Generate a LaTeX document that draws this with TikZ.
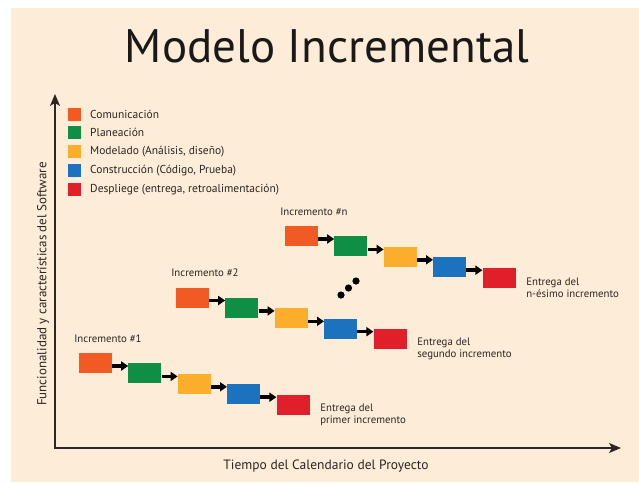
\documentclass[tikz,border=0pt]{standalone}
\usepackage{fontspec}
\setmainfont{PT Sans}
\usepackage{tikz}
\usepackage{xcolor}
\usetikzlibrary{positioning}
\usetikzlibrary{arrows.meta}
\definecolor{peach}{HTML}{FDECD8}
\definecolor{comcol}{HTML}{F15A22}
\definecolor{placol}{HTML}{0F8F45}
\definecolor{modcol}{HTML}{FBAE2C}
\definecolor{concol}{HTML}{1B72BE}
\definecolor{descol}{HTML}{E01F2A}
\definecolor{ink}{HTML}{2B2624}
\tikzstyle{phase}=[rectangle, minimum width=33pt, minimum height=20pt, inner sep=0pt]
\tikzstyle{legend}=[rectangle, minimum size=13pt, inner sep=0pt]
\tikzstyle{link}=[-{Triangle[length=7pt, width=9pt]}, draw=black, line width=3.5pt]
\tikzstyle{axis}=[{Stealth[length=12pt, width=10pt, inset=3pt]}-{Stealth[length=12pt, width=10pt, inset=3pt]}, draw=ink, line width=1.4pt]
\tikzstyle{txt}=[font=\fontsize{10.8}{12.5}\selectfont, text=ink, align=left]

\begin{document}
\begin{tikzpicture}[x=1pt, y=-1pt, node distance = 16pt]
    \useasboundingbox (0,0) rectangle (639,482);
    \fill[peach] (11,8) rectangle (639,482);

    \node[font=\fontsize{47}{56}\selectfont, text=black!90] (title) at (327,46) {Modelo Incremental};

    % legend
    \node[legend, fill=comcol] (legcom) at (74,114) {};
    \node[legend, fill=placol] (legpla) [below = 5.5pt of legcom] {};
    \node[legend, fill=modcol] (legmod) [below = 5.5pt of legpla] {};
    \node[legend, fill=concol] (legcon) [below = 5.5pt of legmod] {};
    \node[legend, fill=descol] (legdes) [below = 5.5pt of legcon] {};
    \node[txt, font=\fontsize{11.5}{13}\selectfont] [right = 6pt of legcom] {Comunicación};
    \node[txt, font=\fontsize{11.5}{13}\selectfont] [right = 6pt of legpla] {Planeación};
    \node[txt, font=\fontsize{11.5}{13}\selectfont] [right = 6pt of legmod] {Modelado (Análisis, diseño)};
    \node[txt, font=\fontsize{11.5}{13}\selectfont] [right = 6pt of legcon] {Construcción (Código, Prueba)};
    \node[txt, font=\fontsize{11.5}{13}\selectfont] [right = 6pt of legdes] {Despliege (entrega, retroalimentación)};

    % axes
    \coordinate (origin) at (55,448);
    \coordinate (ytop)   at (55,94);
    \coordinate (xend)   at (621,448);
    \draw[axis] (ytop) -- (origin) -- (xend);
    \node[txt, rotate=90, font=\fontsize{13}{15}\selectfont] (ylab) at (43,284) {Funcionalidad y características del Software};
    \node[txt, font=\fontsize{13.5}{15}\selectfont] (xlab) at (326,466) {Tiempo del Calendario del Proyecto};

    % increment 1
    \node[phase, fill=comcol] (com1) at (95.5,363) {};
    \node[phase, fill=placol] (pla1) [below right = -10pt and 16pt of com1] {};
    \node[phase, fill=modcol] (mod1) [below right = -10pt and 16pt of pla1] {};
    \node[phase, fill=concol] (con1) [below right = -10pt and 16pt of mod1] {};
    \node[phase, fill=descol] (des1) [below right = -10pt and 16pt of con1] {};
    \node[txt] (inc1) [above = 7pt of com1.north west, anchor=south west, xshift=-8pt] {Incremento \#1};
    \node[txt] (ent1) [right = 7pt of des1, yshift=-10pt, anchor=west] {Entrega del\\primer incremento};

    % increment 2
    \node[phase, fill=comcol] (com2) at (192.5,297.5) {};
    \node[phase, fill=placol] (pla2) [below right = -10pt and 16pt of com2] {};
    \node[phase, fill=modcol] (mod2) [below right = -10pt and 16pt of pla2] {};
    \node[phase, fill=concol] (con2) [below right = -10pt and 16pt of mod2] {};
    \node[phase, fill=descol] (des2) [below right = -10pt and 16pt of con2] {};
    \node[txt] (inc2) [above = 7pt of com2.north west, anchor=south west, xshift=-8pt] {Incremento \#2};
    \node[txt] (ent2) [right = 7pt of des2, yshift=-10pt, anchor=west] {Entrega del\\segundo incremento};

    % increment n
    \node[phase, fill=comcol] (comn) at (301.5,236) {};
    \node[phase, fill=placol] (plan) [below right = -10pt and 16pt of comn] {};
    \node[phase, fill=modcol] (modn) [below right = -10pt and 16pt of plan] {};
    \node[phase, fill=concol] (conn) [below right = -10pt and 16pt of modn] {};
    \node[phase, fill=descol] (desn) [below right = -10pt and 16pt of conn] {};
    \node[txt] (incn) [above = 7pt of comn.north west, anchor=south west, xshift=-8pt] {Incremento \#n};
    \node[txt] (entn) [right = 7pt of desn, yshift=-10pt, anchor=west] {Entrega del\\n-ésimo incremento};

    \draw[link] ([yshift=-3pt]com1.east) -- ([yshift=-3pt]com1.east -| pla1.west);
    \draw[link] ([yshift=-3pt]pla1.east) -- ([yshift=-3pt]pla1.east -| mod1.west);
    \draw[link] ([yshift=-3pt]mod1.east) -- ([yshift=-3pt]mod1.east -| con1.west);
    \draw[link] ([yshift=-3pt]con1.east) -- ([yshift=-3pt]con1.east -| des1.west);

    \draw[link] ([yshift=-3pt]com2.east) -- ([yshift=-3pt]com2.east -| pla2.west);
    \draw[link] ([yshift=-3pt]pla2.east) -- ([yshift=-3pt]pla2.east -| mod2.west);
    \draw[link] ([yshift=-3pt]mod2.east) -- ([yshift=-3pt]mod2.east -| con2.west);
    \draw[link] ([yshift=-3pt]con2.east) -- ([yshift=-3pt]con2.east -| des2.west);

    \draw[link] ([yshift=-3pt]comn.east) -- ([yshift=-3pt]comn.east -| plan.west);
    \draw[link] ([yshift=-3pt]plan.east) -- ([yshift=-3pt]plan.east -| modn.west);
    \draw[link] ([yshift=-3pt]modn.east) -- ([yshift=-3pt]modn.east -| conn.west);
    \draw[link] ([yshift=-3pt]conn.east) -- ([yshift=-3pt]conn.east -| desn.west);

    % dots
    \fill[black] (341,295) circle (3.6);
    \fill[black] (348.5,288) circle (3.6);
    \fill[black] (356,281) circle (3.6);
\end{tikzpicture}
\end{document}
